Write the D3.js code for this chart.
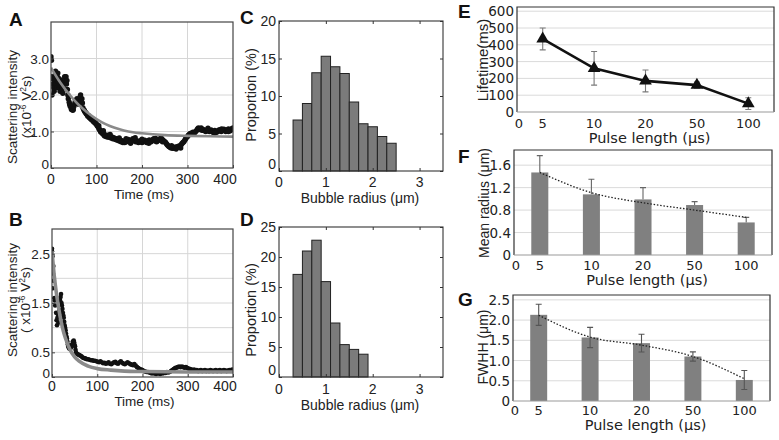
<!DOCTYPE html>
<html><head><meta charset="utf-8">
<script src="https://cdn.jsdelivr.net/npm/d3@7"></script>
<style>
body{margin:0;background:#fff;}
svg{display:block;font-family:"Liberation Sans",Arial,sans-serif;}
</style></head><body>
<svg id="fig" width="779" height="440"></svg>
<script>
// ---- panel A / B : scattering intensity vs time ----
const scatterA = [[0,3.05],[1,2.95],[1,2.5],[2,2.0],[3,2.45],[4,2.3],[5,2.45],[6,2.2],[7,2.1],[8,2.35],[9,2.55],[10,2.65],[11,2.4],[12,2.3],[13,2.2],[14,2.5],[15,2.6],[16,2.35],[17,2.25],[18,2.45],[19,2.2],[20,2.1],[21,2.3],[22,2.4],[23,2.25],[24,2.15],[25,2.3],[26,2.05],[27,2.2],[28,2.35],[29,2.4],[30,2.5],[31,2.45],[32,2.35],[33,2.5],[34,2.3],[35,2.4],[36,2.15],[37,2.0],[38,1.9],[40,1.8],[41,1.75],[42,1.7],[44,1.65],[45,1.6],[46,1.62],[48,1.58],[49,1.6],[50,1.68],[52,1.75],[53,1.8],[54,1.85],[56,1.8],[57,1.9],[58,1.85],[60,1.75],[61,1.82],[62,1.9],[64,1.95],[65,2.0],[66,1.85],[68,1.9],[69,1.78],[70,1.65],[72,1.6],[73,1.58],[74,1.55],[76,1.52],[77,1.5],[78,1.48],[80,1.45],[81,1.42],[82,1.44],[84,1.4],[85,1.38],[86,1.36],[88,1.35],[89,1.33],[90,1.32],[92,1.3],[93,1.28],[94,1.27],[96,1.25],[97,1.24],[98,1.22],[100,1.2],[101,1.18],[102,1.15],[104,1.12],[105,1.1],[106,1.06],[108,1.03],[109,1.0],[110,0.98],[112,1.0],[113,0.96],[114,0.93],[116,0.95],[117,0.9],[118,0.88],[120,0.9],[121,0.86],[122,0.88],[124,0.85],[125,0.9],[126,0.87],[128,0.84],[130,0.86],[132,0.82],[134,0.85],[136,0.8],[138,0.83],[140,0.8],[142,0.78],[144,0.8],[146,0.76],[148,0.78],[150,0.74],[152,0.76],[154,0.72],[156,0.75],[158,0.7],[160,0.73],[162,0.7],[164,0.74],[166,0.72],[168,0.76],[170,0.78],[172,0.75],[174,0.72],[176,0.74],[178,0.77],[180,0.8],[182,0.78],[184,0.74],[186,0.72],[188,0.75],[190,0.73],[192,0.7],[194,0.72],[196,0.75],[198,0.72],[200,0.7],[202,0.72],[204,0.74],[206,0.76],[208,0.73],[210,0.7],[212,0.72],[214,0.75],[216,0.77],[218,0.74],[220,0.72],[222,0.75],[224,0.78],[226,0.8],[228,0.77],[230,0.74],[232,0.72],[234,0.74],[236,0.76],[238,0.78],[240,0.8],[242,0.82],[244,0.79],[246,0.76],[248,0.74],[250,0.72],[252,0.7],[254,0.66],[256,0.63],[258,0.6],[260,0.58],[262,0.57],[264,0.55],[266,0.56],[268,0.54],[270,0.55],[272,0.57],[274,0.56],[276,0.58],[278,0.57],[280,0.6],[282,0.58],[284,0.61],[286,0.64],[288,0.67],[290,0.7],[292,0.72],[294,0.76],[296,0.8],[298,0.84],[300,0.86],[302,0.9],[304,0.92],[306,0.95],[308,0.93],[310,0.96],[312,0.98],[314,0.95],[316,0.97],[318,1.0],[320,1.03],[322,1.07],[324,1.1],[326,1.08],[328,1.06],[330,1.04],[332,1.06],[334,1.03],[336,1.05],[338,1.02],[340,1.0],[342,1.03],[344,1.05],[346,1.02],[348,1.0],[350,1.02],[352,1.04],[354,1.0],[356,0.98],[358,1.0],[360,1.03],[362,1.01],[364,0.98],[366,1.0],[368,1.02],[370,1.05],[372,1.03],[374,1.0],[376,1.02],[378,1.04],[380,1.06],[382,1.03],[384,1.0],[386,1.02],[388,1.05],[390,1.07],[392,1.04],[394,1.02],[396,1.06],[398,1.08],[400,1.1],
  [105,1.16],[115,1.02],[130,0.92],[150,0.82],[165,0.8],[175,0.68],[185,0.83],[200,0.79],[215,0.68],[230,0.81],[245,0.72],[265,0.61],[275,0.52],[285,0.55],[330,1.1],[345,1.09],[360,0.96],[375,1.07],[390,1.0]];
const fitA = [[0,2.75],[20,2.35],[40,2.02],[60,1.74],[80,1.52],[100,1.34],[120,1.2],[140,1.1],[160,1.03],[180,0.98],[200,0.95],[250,0.9],[300,0.88],[350,0.87],[400,0.86]];

const scatterB = [[0,2.6],[0,2.55],[1,2.45],[2,2.1],[2,1.8],[3,2.25],[4,1.95],[5,1.6],[6,1.55],[7,1.45],[8,1.6],[9,1.3],[10,1.15],[11,1.05],[12,1.2],[13,1.27],[14,1.1],[16,1.35],[18,1.55],[19,1.62],[20,1.68],[21,1.5],[22,1.45],[23,1.38],[24,1.3],[25,1.25],[26,1.2],[27,1.12],[28,1.05],[29,1.0],[30,0.95],[31,0.88],[32,0.82],[33,0.78],[34,0.72],[35,0.66],[36,0.62],[37,0.6],[38,0.58],[40,0.57],[42,0.6],[44,0.66],[46,0.72],[48,0.74],[49,0.7],[50,0.65],[51,0.62],[52,0.55],[53,0.5],[55,0.47],[57,0.46],[59,0.45],[61,0.44],[63,0.43],[65,0.42],[67,0.4],[69,0.39],[71,0.38],[73,0.38],[75,0.37],[77,0.36],[80,0.36],[83,0.35],[86,0.34],[89,0.34],[92,0.33],[95,0.33],[98,0.32],[101,0.31],[104,0.3],[107,0.32],[110,0.3],[113,0.28],[116,0.29],[119,0.27],[122,0.28],[125,0.3],[128,0.27],[131,0.26],[134,0.28],[137,0.3],[140,0.31],[143,0.28],[146,0.27],[149,0.3],[152,0.32],[155,0.29],[158,0.27],[161,0.26],[164,0.28],[167,0.3],[170,0.28],[173,0.26],[176,0.25],[179,0.24],[182,0.26],[185,0.23],[188,0.2],[191,0.18],[194,0.16],[197,0.15],[200,0.14],[203,0.12],[206,0.11],[209,0.1],[212,0.1],[215,0.09],[218,0.08],[221,0.07],[224,0.08],[227,0.07],[230,0.06],[233,0.08],[236,0.07],[239,0.06],[242,0.08],[245,0.07],[248,0.09],[251,0.08],[254,0.1],[257,0.09],[260,0.1],[263,0.12],[266,0.14],[269,0.16],[272,0.18],[275,0.19],[278,0.2],[281,0.21],[284,0.2],[287,0.21],[290,0.2],[293,0.19],[296,0.2],[299,0.18],[302,0.17],[305,0.16],[308,0.15],[311,0.14],[314,0.15],[317,0.13],[320,0.14],[323,0.12],[326,0.13],[329,0.14],[332,0.12],[335,0.13],[338,0.14],[341,0.12],[344,0.13],[347,0.12],[350,0.14],[353,0.13],[356,0.12],[359,0.13],[362,0.14],[365,0.12],[368,0.13],[371,0.14],[374,0.12],[377,0.13],[380,0.14],[383,0.13],[386,0.12],[389,0.13],[392,0.14],[395,0.13],[398,0.15],[400,0.14]];
const fitB = [[0,2.55],[5,2.05],[10,1.68],[15,1.38],[20,1.13],[25,0.93],[30,0.78],[40,0.55],[50,0.41],[60,0.32],[80,0.22],[100,0.17],[130,0.14],[160,0.12],[200,0.11],[300,0.1],[400,0.1]];

const timeTicks = [0, 100, 200, 300, 400];
const intensityTicksA = [0, 1, 2, 3];
const intensityLabelsA = ["0", "1.0", "2.0", "3.0"];
const intensityGridB = [0.5, 1, 1.5, 2, 2.5];
const intensityTicksB = [0, 0.5, 1.5, 2.5];
const intensityLabelsB = ["0", "0.5", "1.5", "2.5"];

// ---- panel C / D : bubble radius histograms ----
const binStartC = [0.3,0.5,0.7,0.9,1.1,1.3,1.5,1.7,1.9,2.1,2.3];
const proportionC = [6.8,9.0,13.1,15.3,13.9,13.0,9.2,6.3,5.9,4.6,3.7];
const binStartD = [0.3,0.5,0.7,0.9,1.1,1.3,1.5,1.7];
const proportionD = [17.1,21.0,22.8,15.9,9.0,5.4,4.6,3.8];
const binWidth = 0.2;
const radiusTicks = [0, 1, 2, 3];
const proportionTicksC = [0, 5, 10, 15, 20];
const proportionTicksD = [0, 5, 10, 15, 20, 25];

// ---- panel E / F / G : vs pulse length ----
const pulseLengths = ["5", "10", "20", "50", "100"];
const lifetime = [435, 260, 185, 160, 50];
const lifetimeErr = [65, 100, 65, 18, 35];
const lifetimeTicks = [0, 100, 200, 300, 400, 500, 600];
const meanRadius = [1.47, 1.08, 0.99, 0.89, 0.58];
const meanRadiusErr = [0.3, 0.27, 0.21, 0.06, 0.09];
const meanRadiusTrend = [1.47, 1.11, 0.93, 0.8, 0.67];
const meanRadiusTicks = [0, 0.4, 0.8, 1.2, 1.6];
const fwhh = [2.13, 1.57, 1.43, 1.1, 0.52];
const fwhhErr = [0.26, 0.25, 0.22, 0.115, 0.235];
const fwhhTrend = [2.12, 1.58, 1.38, 1.1, 0.55];
const fwhhTicks = [0, 0.5, 1.0, 1.5, 2.0, 2.5];

const svg = d3.select("#fig");
svg.append("rect").attr("width", 779).attr("height", 440).attr("fill", "#fff");

function letter(t, x, y) {
  svg.append("text").attr("x", x).attr("y", y).attr("font-size", 19)
    .attr("font-weight", "bold").attr("fill", "#111").text(t);
}

function rotLabel(lines, cy, size, family) {
  // each line: {x, parts:[[text, isSuperscript]]}
  lines.forEach(l => {
    const t = svg.append("text").attr("transform", `translate(${l.x},${cy}) rotate(-90)`)
      .attr("text-anchor", "middle").attr("font-size", size).attr("fill", "#222");
    if (family) t.attr("font-family", family);
    l.parts.forEach(p => {
      if (p[1]) t.append("tspan").attr("baseline-shift", "super").attr("font-size", size * 0.62).text(p[0]);
      else t.append("tspan").text(p[0]);
    });
  });
}

let clipId = 0;
function timePanel(cfg) {
  const x = d3.scaleLinear().domain([0, 400]).range([cfg.left, cfg.right]);
  const y = d3.scaleLinear().domain([0, cfg.yMax]).range([cfg.bottom, cfg.top]);
  const g = svg.append("g");
  const id = "clip" + (clipId++);
  g.append("clipPath").attr("id", id).append("rect")
    .attr("x", cfg.left).attr("y", cfg.top).attr("width", cfg.right - cfg.left).attr("height", cfg.bottom - cfg.top);
  // grid
  g.selectAll(".vg").data(timeTicks.slice(1, -1)).join("line").attr("class", "vg")
    .attr("x1", d => x(d)).attr("x2", d => x(d)).attr("y1", cfg.top).attr("y2", cfg.bottom)
    .attr("stroke", "#d6d6d6");
  g.selectAll(".hg").data(cfg.gridY).join("line").attr("class", "hg")
    .attr("x1", cfg.left).attr("x2", cfg.right).attr("y1", d => y(d)).attr("y2", d => y(d))
    .attr("stroke", "#d6d6d6");
  const inner = g.append("g").attr("clip-path", `url(#${id})`);
  inner.selectAll("circle").data(cfg.data).join("circle")
    .attr("cx", d => x(d[0])).attr("cy", d => y(d[1])).attr("r", cfg.r).attr("fill", "#111");
  inner.append("path").datum(cfg.fit)
    .attr("d", d3.line().x(d => x(d[0])).y(d => y(d[1])).curve(d3.curveMonotoneX))
    .attr("fill", "none").attr("stroke", "#8a8a8a").attr("stroke-width", cfg.fitW);
  // inward ticks
  g.append("g").attr("transform", `translate(0,${cfg.bottom})`)
    .call(d3.axisBottom(x).tickValues(timeTicks).tickSize(-3).tickFormat(""))
    .call(a => a.select(".domain").remove()).selectAll("line").attr("stroke", "#444");
  g.append("g").attr("transform", `translate(${cfg.left},0)`)
    .call(d3.axisLeft(y).tickValues(cfg.yTicks).tickSize(-3).tickFormat(""))
    .call(a => a.select(".domain").remove()).selectAll("line").attr("stroke", "#444");
  g.append("rect").attr("x", cfg.left).attr("y", cfg.top).attr("width", cfg.right - cfg.left)
    .attr("height", cfg.bottom - cfg.top).attr("fill", "none").attr("stroke", "#444").attr("stroke-width", 1.2);
  // labels
  g.selectAll(".xl").data(timeTicks).join("text").attr("class", "xl")
    .attr("x", d => x(d) + (d === 400 ? -8 : 0)).attr("y", cfg.xBase).attr("text-anchor", "middle")
    .attr("font-size", 14).attr("fill", "#222").text(d => d);
  g.selectAll(".yl").data(cfg.yTicks).join("text").attr("class", "yl")
    .attr("x", cfg.left - 2).attr("y", d => y(d) + (d === 0 ? 1 : 5)).attr("text-anchor", "end")
    .attr("font-size", 13.5).attr("fill", "#222").text((d, i) => cfg.yLabels[i]);
  g.append("text").attr("x", (cfg.left + cfg.right) / 2 + 2).attr("y", cfg.titleBase)
    .attr("text-anchor", "middle").attr("font-size", 13.5).attr("fill", "#222").text("Time (ms)");
}

function histPanel(cfg) {
  const x = d3.scaleLinear().domain([0, 3.5]).range([cfg.left, cfg.right]);
  const y = d3.scaleLinear().domain([0, cfg.yMax]).range([cfg.bottom, cfg.top]);
  const g = svg.append("g");
  g.selectAll("rect.bar").data(cfg.bins).join("rect").attr("class", "bar")
    .attr("x", d => x(d)).attr("width", x(binWidth) - x(0))
    .attr("y", (d, i) => y(cfg.values[i])).attr("height", (d, i) => y(0) - y(cfg.values[i]))
    .attr("fill", "#7b7b7b").attr("stroke", "#222").attr("stroke-width", 1);
  const tick = (axis, tr) => g.append("g").attr("transform", tr).call(axis)
    .call(a => a.select(".domain").remove()).selectAll("line").attr("stroke", "#333");
  tick(d3.axisBottom(x).tickValues(radiusTicks).tickSize(-3).tickFormat(""), `translate(0,${cfg.bottom})`);
  tick(d3.axisTop(x).tickValues(radiusTicks).tickSize(-3).tickFormat(""), `translate(0,${cfg.top})`);
  tick(d3.axisLeft(y).tickValues(cfg.yTicks).tickSize(-3).tickFormat(""), `translate(${cfg.left},0)`);
  tick(d3.axisRight(y).tickValues(cfg.yTicks).tickSize(-3).tickFormat(""), `translate(${cfg.right},0)`);
  g.append("rect").attr("x", cfg.left).attr("y", cfg.top).attr("width", cfg.right - cfg.left)
    .attr("height", cfg.bottom - cfg.top).attr("fill", "none").attr("stroke", "#333").attr("stroke-width", 1.1);
  g.selectAll(".xl").data(radiusTicks).join("text").attr("class", "xl")
    .attr("x", d => x(d)).attr("y", cfg.xBase).attr("text-anchor", "middle")
    .attr("font-size", 14).attr("fill", "#222").text(d => d);
  g.selectAll(".yl").data(cfg.yTicks).join("text").attr("class", "yl")
    .attr("x", cfg.left - 3).attr("y", d => y(d) + (d === 0 ? -2 : 5)).attr("text-anchor", "end")
    .attr("font-size", 14).attr("fill", "#222").text(d => d);
  g.append("text").attr("x", 360).attr("y", cfg.titleBase).attr("text-anchor", "middle")
    .attr("font-size", 14).attr("fill", "#222").text("Bubble radius (μm)");
  rotLabel([{x: 256, parts: [["Proportion (%)"]]}], cfg.titleY, 14.5);
}

function pulsePanel(cfg) {
  const x = d3.scaleBand().domain(pulseLengths).range([cfg.left, cfg.right]);
  const cx = d => x(d) + x.bandwidth() / 2;
  const y = d3.scaleLinear().domain([0, cfg.yMax]).range([cfg.bottom, cfg.top]);
  const g = svg.append("g").attr("font-family", "'DejaVu Sans', sans-serif");
  g.selectAll(".hg").data(cfg.yTicks.filter(v => v > 0)).join("line").attr("class", "hg")
    .attr("x1", cfg.left).attr("x2", cfg.right).attr("y1", d => y(d)).attr("y2", d => y(d))
    .attr("stroke", "#dadada");
  return {x, cx, y, g};
}
function pulseFrame(p, cfg) {
  const g = p.g;
  g.append("path").attr("d", `M${cfg.left},${cfg.bottom}V${cfg.top}H${cfg.right}V${cfg.bottom}`)
    .attr("fill", "none").attr("stroke", "#333").attr("stroke-width", 1.2);
  g.append("line").attr("x1", cfg.left).attr("x2", cfg.right).attr("y1", cfg.bottom).attr("y2", cfg.bottom)
    .attr("stroke", "#9a9a9a").attr("stroke-width", 1.2);
  g.selectAll(".yl").data(cfg.yTicks).join("text").attr("class", "yl")
    .attr("x", cfg.left - 3).attr("y", d => p.y(d) + 5).attr("text-anchor", "end")
    .attr("font-size", 13.5).attr("fill", "#222").text(cfg.yFmt);
  g.selectAll(".xl").data(pulseLengths).join("text").attr("class", "xl")
    .attr("x", d => p.cx(d)).attr("y", cfg.xBase).attr("text-anchor", "middle")
    .attr("font-size", 13).attr("fill", "#222").text(d => d);
  g.append("text").attr("x", cfg.left + 2).attr("y", cfg.xBase).attr("text-anchor", "middle")
    .attr("font-size", 13).attr("fill", "#222").text("0");
  g.append("text").attr("x", (cfg.left + cfg.right) / 2 + 4).attr("y", cfg.titleBase).attr("text-anchor", "middle")
    .attr("font-size", 14.5).attr("fill", "#222").text("Pulse length (μs)");
}
function errBars(p, vals, errs, upOnly, color) {
  const cap = 3;
  p.g.selectAll(null).data(pulseLengths).join("path")
    .attr("d", (d, i) => {
      const xc = p.cx(d), yt = p.y(vals[i] + errs[i]), yb = upOnly ? p.y(vals[i]) : p.y(vals[i] - errs[i]);
      return `M${xc},${yt}V${yb}M${xc - cap},${yt}H${xc + cap}` + (upOnly ? "" : `M${xc - cap},${yb}H${xc + cap}`);
    })
    .attr("fill", "none").attr("stroke", color).attr("stroke-width", 1.1);
}
function bars(p, vals) {
  const w = p.x.step() * 0.33;
  p.g.selectAll("rect.bar").data(pulseLengths).join("rect").attr("class", "bar")
    .attr("x", d => p.cx(d) - w / 2).attr("width", w)
    .attr("y", (d, i) => p.y(vals[i])).attr("height", (d, i) => p.y(0) - p.y(vals[i]))
    .attr("fill", "#808080");
}
function trend(p, vals) {
  p.g.append("path").datum(pulseLengths)
    .attr("d", d3.line().x(d => p.cx(d)).y((d, i) => p.y(vals[i])).curve(d3.curveMonotoneX))
    .attr("fill", "none").attr("stroke", "#222").attr("stroke-width", 1.3).attr("stroke-dasharray", "1.5,1.8");
}

// ---------- A ----------
letter("A", 9, 26);
timePanel({left: 51, right: 233, top: 22, bottom: 168, yMax: 4, gridY: [1, 2, 3],
  yTicks: intensityTicksA, yLabels: intensityLabelsA, data: scatterA, fit: fitA, r: 2.7, fitW: 2.6,
  xBase: 184, titleBase: 199});
rotLabel([{x: 17, parts: [["Scattering intensity"]]},
          {x: 31, parts: [["(x10"], ["-6", 1], [" V"], ["2", 1], ["s)"]]}], 107, 13.5);

// ---------- B ----------
letter("B", 9, 226);
timePanel({left: 52, right: 233, top: 229, bottom: 377, yMax: 3, gridY: intensityGridB,
  yTicks: intensityTicksB, yLabels: intensityLabelsB, data: scatterB, fit: fitB, r: 2.3, fitW: 3.6,
  xBase: 391, titleBase: 406});
rotLabel([{x: 17, parts: [["Scattering intensity"]]},
          {x: 30, parts: [["( x10"], ["-6", 1], [" V"], ["2", 1], ["s)"]]}], 300, 13.5);

// ---------- C / D ----------
letter("C", 240, 24);
histPanel({left: 279, right: 443, top: 21, bottom: 171, yMax: 20, yTicks: proportionTicksC,
  bins: binStartC, values: proportionC, xBase: 187, titleBase: 203, titleY: 95});
letter("D", 240, 226);
histPanel({left: 279, right: 443, top: 227, bottom: 377, yMax: 25, yTicks: proportionTicksD,
  bins: binStartD, values: proportionD, xBase: 394, titleBase: 410, titleY: 310});

// ---------- E ----------
letter("E", 458, 18);
const cfgE = {left: 517, right: 774, top: 7, bottom: 112, yMax: 625, yTicks: lifetimeTicks,
  yFmt: d => d, xBase: 128, titleBase: 143};
const pE = pulsePanel(cfgE);
errBars(pE, lifetime, lifetimeErr, false, "#7a7a7a");
pE.g.append("path").datum(pulseLengths)
  .attr("d", d3.line().x(d => pE.cx(d)).y((d, i) => pE.y(lifetime[i])))
  .attr("fill", "none").attr("stroke", "#111").attr("stroke-width", 2.6);
pE.g.selectAll(".mk").data(pulseLengths).join("path").attr("class", "mk")
  .attr("transform", (d, i) => `translate(${pE.cx(d)},${pE.y(lifetime[i])})`)
  .attr("d", d3.symbol(d3.symbolTriangle, 70)).attr("fill", "#111");
pulseFrame(pE, cfgE);
rotLabel([{x: 488, parts: [["Lifetime(ms)"]]}], 60, 15, "'Liberation Sans', Arial, sans-serif");

// ---------- F ----------
letter("F", 458, 163);
const cfgF = {left: 514, right: 772, top: 150, bottom: 255, yMax: 1.87, yTicks: meanRadiusTicks,
  yFmt: d => d === 0 ? "0" : d.toFixed(1), xBase: 270, titleBase: 285};
const pF = pulsePanel(cfgF);
errBars(pF, meanRadius, meanRadiusErr, true, "#666");
bars(pF, meanRadius);
trend(pF, meanRadiusTrend);
pulseFrame(pF, cfgF);
rotLabel([{x: 489, parts: [["Mean radius (μm)"]]}], 203, 14, "'Liberation Sans', Arial, sans-serif");

// ---------- G ----------
letter("G", 458, 306);
const cfgG = {left: 513, right: 770, top: 295, bottom: 401, yMax: 2.62, yTicks: fwhhTicks,
  yFmt: d => d === 0 ? "0" : d.toFixed(1), xBase: 415, titleBase: 430};
const pG = pulsePanel(cfgG);
bars(pG, fwhh);
errBars(pG, fwhh, fwhhErr, false, "#555");
trend(pG, fwhhTrend);
pulseFrame(pG, cfgG);
rotLabel([{x: 488, parts: [["FWHH (μm)"]]}], 347, 14, "'Liberation Sans', Arial, sans-serif");
</script>
</body></html>
